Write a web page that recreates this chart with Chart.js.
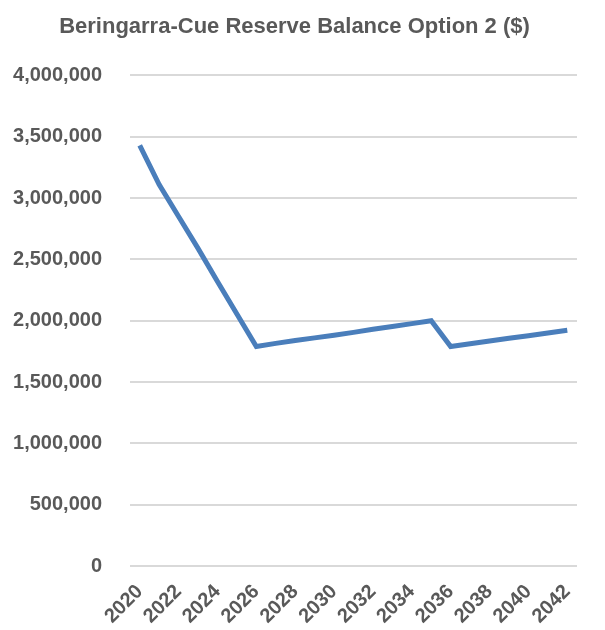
<!DOCTYPE html>
<html>
<head>
<meta charset="utf-8">
<script src="https://cdn.jsdelivr.net/npm/chart.js@4/dist/chart.umd.min.js"></script>
<style>
  html, body { margin: 0; padding: 0; background: #fff; }
  #wrap { width: 605px; height: 630px; }
</style>
</head>
<body>
<div id="wrap"><canvas id="lineChart"></canvas></div>
<script>
// years on the x axis
var years = ['2020', '2021', '2022', '2023', '2024', '2025', '2026', '2027', '2028', '2029', '2030', '2031',
  '2032', '2033', '2034', '2035', '2036', '2037', '2038', '2039', '2040', '2041', '2042'];

// reserve balance
var balance = [3430000, 3110000, 2850000, 2590000, 2320000, 2055000, 1790000, 1815000, 1838000, 1860000,
  1882000, 1905000, 1930000, 1953000, 1976000, 2000000, 1790000, 1812000, 1835000, 1857000, 1878000,
  1900000, 1922000];

var yTicks = [0, 500000, 1000000, 1500000, 2000000, 2500000, 3000000, 3500000, 4000000];

var grey = '#595959';
var font = 'Liberation Sans, Arial, sans-serif';

var ctx = document.getElementById('lineChart');
var myChart = new Chart(ctx, {
  type: 'line',
  data: {
    labels: years,
    datasets: [{
      label: 'Reserve Balance',
      data: balance,
      borderColor: '#4A7EBB',
      backgroundColor: '#4A7EBB',
      borderWidth: 5,
      pointRadius: 0,
      tension: 0,
      fill: false
    }]
  },
  options: {
    responsive: true,
    maintainAspectRatio: false,
    animation: false,
    layout: { padding: { left: 12, right: 28, top: 6, bottom: 0 } },
    plugins: {
      legend: { display: false },
      tooltip: { enabled: false },
      title: {
        display: true,
        text: 'Beringarra-Cue Reserve Balance Option 2 ($)',
        color: grey,
        font: { family: font, size: 22, weight: 'bold' },
        padding: { top: 8, bottom: 35 }
      }
    },
    scales: {
      x: {
        offset: true,
        afterFit: function (axis) { axis.height = 64; },
        grid: { display: false },
        border: { display: false },
        ticks: {
          autoSkip: false,
          maxRotation: 45,
          minRotation: 45,
          color: grey,
          font: { family: font, size: 20, weight: 'bold' },
          padding: 6,
          callback: function (v, i) { return i % 2 === 0 ? years[i] : ''; }
        }
      },
      y: {
        min: 0,
        max: 4000000,
        afterBuildTicks: function (axis) {
          axis.ticks = yTicks.map(function (v) { return { value: v }; });
        },
        afterFit: function (axis) { axis.width = 118; },
        grid: { color: '#d9d9d9', lineWidth: 2, drawTicks: false },
        border: { display: false },
        ticks: {
          color: grey,
          padding: 28,
          font: { family: font, size: 20, weight: 'bold' },
          callback: function (v) { return v.toLocaleString('en-US'); }
        }
      }
    }
  }
});
</script>
</body>
</html>
